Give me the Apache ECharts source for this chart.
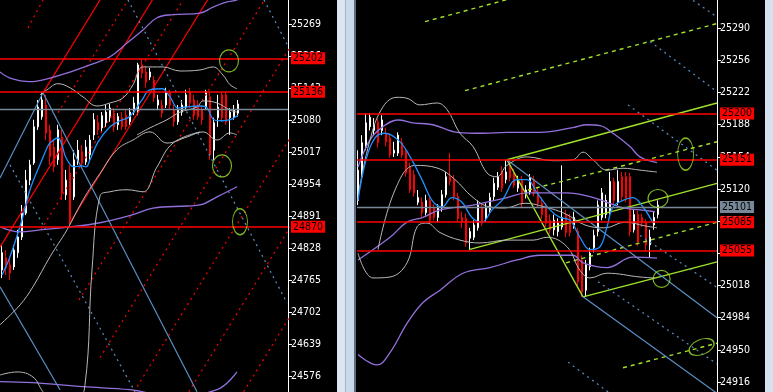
<!DOCTYPE html>
<html><head><meta charset="utf-8">
<script src="https://cdn.jsdelivr.net/npm/echarts@6/dist/echarts.min.js"></script>
<style>
html,body{margin:0;padding:0;background:#000;overflow:hidden}
#c{position:absolute;left:0;top:0;width:773px;height:392px}
.strip{position:absolute;top:0;height:392px}
</style></head><body>
<div id="c"></div>
<div class="strip" style="left:337px;width:8px;background:#dbe6f2"></div>
<div class="strip" style="left:345px;width:1px;background:#9fb3c8"></div>
<div class="strip" style="left:346px;width:8px;background:#c9d9ea"></div>
<div class="strip" style="left:354px;width:2px;background:#5d6d7e"></div>
<div class="strip" style="left:765px;width:8px;background:#d4e1ef"></div>
<script>
// ---------- tick labels ----------
const leftTicks = [25269,25206,25143,25080,25017,24954,24891,24828,24765,24702,24639,24576];
const rightTicks = [25290,25256,25222,25188,25154,25120,25086,25052,25018,24984,24950,24916];
// ---------- horizontal levels ----------
const leftLevels = [25202, 25136, 24870];
const rightLevels = [25200, 25151, 25085, 25055];
const currentPrice = 25101;
// ---------- candles [open, close, low, high] ----------
const leftCandles = [
[24785,24819,24769,24834],[24809,24789,24775,24824],[24795,24779,24765,24805],[24791,24824,24785,24834],
[24819,24850,24809,24864],[24850,24897,24844,24913],[24897,24962,24893,24982],[24962,24992,24952,25002],
[24996,25067,24992,25081],[25067,25106,25061,25120],[25087,25120,25081,25134],[25110,25055,25041,25130],
[25061,25008,24992,25071],[25027,24988,24978,25041],[25002,25061,24992,25071],[25047,24937,24923,25061],
[24933,24962,24923,24982],[24976,24884,24874,24992],[24929,25002,24923,25021],[24998,25021,24992,25041],
[25018,24998,24986,25031],[24998,25027,24992,25041],[25012,25041,25002,25051],[25051,25081,25041,25094],
[25075,25061,25051,25090],[25065,25089,25057,25096],[25075,25096,25067,25110],[25085,25104,25077,25112],
[25094,25067,25057,25104],[25071,25087,25061,25094],[25085,25067,25061,25096],[25090,25067,25061,25100],
[25077,25096,25071,25104],[25096,25114,25090,25126],[25096,25189,25090,25193],[25189,25173,25163,25201],
[25175,25155,25144,25187],[25165,25175,25159,25183],[25159,25124,25116,25167],[25110,25120,25100,25130],
[25110,25094,25085,25120],[25110,25134,25104,25144],[25134,25110,25100,25140],[25100,25077,25067,25110],
[25077,25100,25071,25110],[25096,25110,25089,25120],[25106,25130,25100,25140],[25136,25114,25104,25144],
[25120,25090,25081,25130],[25110,25087,25081,25120],[25100,25081,25071,25110],[25106,25136,25100,25140],
[25126,25012,25002,25136],[25021,25075,25002,25085],[25085,25106,25067,25130],[25130,25085,25077,25136],
[25130,25077,25071,25136],[25085,25096,25051,25104],[25087,25100,25081,25110],[25094,25112,25087,25120]
];
const rightCandles = [
[25108,25140,25103,25161],[25133,25169,25130,25177],[25164,25190,25161,25200],[25186,25196,25182,25200],
[25182,25188,25177,25195],[25191,25169,25164,25195],[25182,25193,25177,25198],[25179,25170,25165,25185],
[25174,25156,25153,25179],[25158,25161,25154,25170],[25158,25177,25155,25180],[25169,25156,25153,25174],
[25159,25137,25133,25163],[25143,25119,25116,25148],[25135,25116,25112,25140],[25106,25111,25103,25119],
[25106,25095,25090,25111],[25095,25108,25092,25114],[25108,25087,25083,25113],[25100,25090,25087,25104],
[25090,25100,25085,25104],[25100,25114,25096,25119],[25114,25133,25111,25138],[25133,25128,25124,25158],
[25130,25112,25108,25135],[25112,25089,25085,25116],[25090,25085,25079,25096],[25089,25063,25059,25094],
[25068,25075,25056,25079],[25069,25082,25066,25087],[25079,25103,25076,25108],[25101,25084,25081,25105],
[25089,25100,25085,25105],[25098,25111,25095,25116],[25112,25126,25108,25132],[25122,25133,25119,25138],
[25138,25121,25117,25144],[25130,25138,25126,25151],[25143,25132,25128,25149],[25137,25124,25121,25141],
[25121,25130,25117,25134],[25130,25105,25101,25134],[25114,25119,25110,25124],[25117,25132,25114,25136],
[25130,25116,25112,25134],[25117,25105,25101,25121],[25105,25093,25088,25111],[25101,25084,25080,25105],
[25087,25077,25073,25093],[25077,25087,25071,25093],[25075,25084,25070,25089],[25080,25090,25077,25145],
[25093,25074,25069,25098],[25089,25074,25070,25094],[25082,25090,25078,25096],[25075,25022,25018,25079],
[25045,25011,25006,25050],[25013,25040,25006,25045],[25038,25052,25034,25058],[25058,25071,25053,25077],
[25075,25103,25070,25108],[25090,25116,25087,25121],[25093,25108,25089,25114],[25096,25128,25093,25138],
[25128,25108,25104,25132],[25106,25128,25103,25140],[25133,25112,25108,25138],[25133,25110,25106,25138],
[25133,25075,25070,25137],[25077,25093,25074,25098],[25093,25064,25060,25097],[25090,25084,25080,25094],
[25084,25061,25055,25088],[25061,25069,25047,25077],[25082,25090,25077,25096],[25093,25103,25089,25108]
];
// ---------- indicator curves [bar index, price] ----------
const leftMA = [[0,24775],[2,24811],[5,24884],[7,24943],[10,25002],[11,25021],[12,25035],[14,25045],[15,25031],[16,25006],[18,24988],[20,24990],[21,24988],[22,25002],[24,25037],[27,25067],[29,25077],[32,25088],[35,25120],[37,25140],[40,25142],[42,25126],[44,25104],[46,25106],[49,25108],[51,25106],[53,25081],[55,25079],[57,25081],[59,25090]];
const leftPurpleUp = [[-0.5,25175],[2,25163],[7,25156],[12,25163],[17,25175],[22,25189],[27,25205],[31.25,25232],[35.25,25258],[38.75,25282],[42.75,25288],[49.5,25291],[52.75,25303],[56.25,25313],[58.75,25317],[59.5,25323]];
const leftPurpleMid = [[-0.5,24870],[4.5,24860],[9.5,24864],[17,24870],[24.5,24878],[32.75,24894],[37.75,24907],[46.25,24911],[49.5,24913],[53.75,24929],[58.75,24949]];
const leftPurpleLow = [[-0.5,24565],[7.75,24563],[20.25,24555],[32,24549],[42,24537],[53.75,24549],[58.75,24584]];
const leftGrayUp = [[9.5,25130],[11.25,25140],[14,25152],[17,25144],[20.25,25126],[23.75,25108],[27,25114],[30.25,25124],[32.75,25150],[35.25,25185],[40.25,25185],[44.5,25177],[49.5,25179],[52.75,25185],[55.25,25169],[57,25150],[58.75,25142]];
const leftGrayMid = [[33.75,25051],[37,25065],[41.25,25081],[44.5,25096],[48.75,25106],[50.25,25118],[53.75,25114],[57,25100],[58.75,25096]];
const leftGrayLow = [[-0.5,24677],[4.5,24716],[7.75,24752],[12,24811],[16.25,24864],[20.25,24923],[24.5,24975],[28.75,25022],[32.75,25041],[37,25057],[41.25,25035],[46.25,25047],[50.25,25057],[53.75,25041],[57,25055],[58.75,25051]];
const leftGrayOuter = [[-0.5,24578],[3.75,24584],[7.75,24574],[10.25,24545],[13.25,24519],[18.25,24519],[20.75,24559],[22.5,24785],[24.5,24931],[27,24939],[31.25,24943],[35.25,24939],[38.75,24988],[42.75,25035],[49.5,25057]];
const rightMA = [[0,25108],[2,25151],[4.25,25174],[6.75,25179],[10,25172],[12.5,25158],[16,25130],[18.5,25108],[21,25101],[23.5,25111],[26,25106],[28.5,25090],[31,25085],[33.5,25098],[36,25108],[39.75,25130],[42.25,25130],[44.75,25116],[48,25098],[50.5,25090],[53,25087],[55.5,25069],[58,25056],[60.5,25059],[62.25,25080],[63.75,25101],[66.25,25108],[68.75,25111],[71.25,25101],[73.75,25084]];
const rightPurpleUp = [[0,25143],[3,25172],[6.25,25186],[10,25193],[13.75,25190],[18.75,25188],[24.75,25180],[31.25,25179],[37.25,25180],[45.5,25180],[53.75,25185],[57.25,25188],[60.5,25187],[63.75,25179],[68,25165],[70.5,25154],[74.75,25148]];
const rightPurpleMid = [[0,25045],[8,25069],[12.25,25085],[16.25,25090],[20.5,25098],[28.75,25103],[37.25,25111],[42.25,25116],[52.25,25116],[58,25112],[62.25,25106],[66.25,25100],[70.5,25098],[74.25,25096]];
const rightPurpleLow = [[0,24945],[4.75,24934],[8,24947],[12.25,24978],[16.25,25000],[20.5,25013],[26.25,25031],[33,25037],[39.75,25045],[45.5,25050],[53.75,25050],[56.25,25042],[62.25,25037],[68.75,25048],[74.75,25047]];
const rightGrayUp = [[0,25112],[3,25172],[6.25,25207],[9.75,25217],[12.25,25216],[15.5,25209],[19.75,25211],[22.25,25204],[25.5,25179],[28.75,25165],[32.25,25137],[34.75,25133],[37.25,25145],[42.25,25154],[48.75,25150],[53.75,25151],[56.25,25159],[58.75,25151],[62.25,25140],[66.25,25142],[70.5,25140],[74.75,25138]];
const rightGrayMid = [[5,25056],[9.25,25119],[14.25,25145],[20,25142],[24.25,25130],[28.5,25112],[33,25101],[36.75,25100],[41.75,25105],[46.75,25101],[51.75,25094],[56.75,25082],[61.75,25079],[66.75,25085],[71.75,25081],[74.75,25079]];
const rightGrayLow = [[0,25052],[3.75,25026],[8,25027],[12.25,25042],[14.75,25080],[17.25,25084],[20.5,25074],[25.5,25066],[30.5,25063],[37.25,25066],[43.75,25066],[47.25,25069],[52.25,25059],[55.5,25034],[58,25026],[62.25,25031],[70.5,25027],[74.25,25026]];
// ---------- drawn objects: segments [[x1,p1],[x2,p2]] ----------
const leftRedSolid = [[[10.25,25134],[24.5,25317]],[[-0.5,24830],[37.6,25317]],[[17,24878],[51.4,25317]]];
const leftRedDotted = [[[6.5,25262],[10.25,25317]],[[13.25,25085],[31.5,25317]],[[9.75,24864],[45.25,25317]],[[19.25,24726],[65.6,25317]],[[24.5,24612],[79.25,25317]],[[33,24545],[93.25,25317]],[[46.7,24545],[107,25317]],[[60.4,24545],[120.75,25317]]];
const leftBlueSolid = [[[-0.5,24966],[10.25,25134]],[[10.25,25134],[48.75,24545]],[[-0.5,24752],[14.5,24549]]];
const leftBlueDotted = [[[2,24992],[33.25,24545]],[[31.5,25317],[71.25,24720]],[[65.5,25317],[71.5,25226]]];
const rightGreenSolid = [[[37.25,25151],[56.25,25006]],[[27.75,25056],[89.75,25126]],[[37.25,25151],[89.75,25211]],[[56.25,25006],[89.75,25043]]];
const rightGreenDashed = [[[16.75,25297],[89.75,25380]],[[26.75,25224],[89.75,25295]],[[42.5,25119],[89.75,25170]],[[52,25042],[89.75,25085]],[[66.25,24931],[89.75,24957]]];
const rightBlueSolid = [[[37.25,25151],[89.75,24984]],[[56.25,25006],[89.75,24904]]];
const rightBlueDotted = [[[82.5,25323],[89.75,25302]],[[73,25276],[89.75,25223]],[[67.5,25209],[89.75,25140]],[[70.5,25071],[89.75,25016]],[[60,25022],[89.75,24935]],[[52.5,24937],[63,24904]]];
const leftMarks = [[56.75,25197],[55,24990],[59.5,24880]];
const rightMarks = [[81.9,25157],[75,25110],[75.9,25025],[85.9,24953]];

// ---------- build ----------
const FONT = '"DejaVu Sans Condensed", "Liberation Sans", sans-serif';
const RED='#ff0000', STEEL='#5b8fc4', DODGER='#1e90ff', SILVER='#b8b8b8', PURPLE='#9370db', LIME='#9fe22a', SLATE='#778899';
const series = [];
function line(g, pts, color, type, width, smooth, z){
  series.push({type:'line', xAxisIndex:g, yAxisIndex:g, data:pts, symbol:'none', silent:true, animation:false,
    smooth: smooth||false, lineStyle:{color:color, width:width||1, type:type||'solid'}, z:z||3});
}
function candles(g, arr){
  series.push({type:'candlestick', xAxisIndex:g, yAxisIndex:g, animation:false, silent:true,
    data: arr.map((d,i)=>[i,d[0],d[1],d[2],d[3]]), encode:{x:0,y:[1,2,3,4]}, barWidth:2.2,
    itemStyle:{color:'#ffffff', color0:'#ff0000', borderColor:'#ffffff', borderColor0:'#ff0000', borderWidth:1}, z:2});
}
function levels(g, vals, gray, grayLabel){
  const lbl = (bg)=>({show:true, position:'end', distance:3, formatter:p=>String(p.value), color:'#000',
    backgroundColor:bg, padding:[1,2,0,2], fontSize:10.5, fontFamily:FONT});
  const data = vals.map(v=>({yAxis:v, lineStyle:{color:RED, width:1.6, type:'solid'}, label:lbl(RED)}));
  data.unshift({yAxis:gray, lineStyle:{color:SLATE, width:1.3, type:'solid'}, label: grayLabel ? lbl(SLATE) : {show:false}});
  series.push({type:'line', xAxisIndex:g, yAxisIndex:g, data:[], silent:true, animation:false, z:4,
    markLine:{symbol:['none','none'], silent:true, animation:false, data:data}});
}
function marks(g, pts, sizes, rots){
  pts.forEach((p,k)=>{
    series.push({type:'scatter', xAxisIndex:g, yAxisIndex:g, data:[p], symbol:'circle', symbolSize:sizes[k], symbolRotate:rots[k]||0,
      silent:true, animation:false, itemStyle:{color:'rgba(0,0,0,0)', borderColor:LIME, borderWidth:1.2}, z:6});
  });
}

// left panel
candles(0, leftCandles);
leftRedSolid.forEach(s=>line(0,s,RED,'solid',1.2));
leftRedDotted.forEach(s=>line(0,s,RED,[2,4],1.2));
leftBlueSolid.forEach(s=>line(0,s,STEEL,'solid',1.2));
leftBlueDotted.forEach(s=>line(0,s,STEEL,[2,4],1.2));
line(0,leftPurpleUp,PURPLE,'solid',1.3,0.4);
line(0,leftPurpleMid,PURPLE,'solid',1.3,0.4);
line(0,leftPurpleLow,PURPLE,'solid',1.3,0.4);
line(0,leftGrayUp,SILVER,'solid',1,0.4);
line(0,leftGrayMid,SILVER,'solid',1,0.4);
line(0,leftGrayLow,SILVER,'solid',1,0.4);
line(0,leftGrayOuter,SILVER,'solid',1,0.4);
line(0,leftMA,DODGER,'solid',1.3,0.4);
levels(0, leftLevels, currentPrice, false);
marks(0, leftMarks, [[19,22],[19,22],[15,26]], [0,0,0]);

// right panel
candles(1, rightCandles);
rightGreenSolid.forEach(s=>line(1,s,LIME,'solid',1.4));
rightGreenDashed.forEach(s=>line(1,s,LIME,[4,4],1.4));
rightBlueSolid.forEach(s=>line(1,s,STEEL,'solid',1.2));
rightBlueDotted.forEach(s=>line(1,s,STEEL,[2,4],1.2));
line(1,rightPurpleUp,PURPLE,'solid',1.3,0.4);
line(1,rightPurpleMid,PURPLE,'solid',1.3,0.4);
line(1,rightPurpleLow,PURPLE,'solid',1.3,0.4);
line(1,rightGrayUp,SILVER,'solid',1,0.4);
line(1,rightGrayMid,SILVER,'solid',1,0.4);
line(1,rightGrayLow,SILVER,'solid',1,0.4);
line(1,rightMA,DODGER,'solid',1.3,0.4);
levels(1, rightLevels, currentPrice, true);
marks(1, rightMarks, [[16,32],[20,18],[17,17],[26,15]], [0,0,0,22]);

function yAx(g, min, max, ticks){
  return {gridIndex:g, type:'value', position:'right', min:min, max:max,
    axisLine:{show:true, onZero:false, lineStyle:{color:'#fff', width:1}},
    axisTick:{show:true, length:4, inside:false, lineStyle:{color:'#fff'}, customValues:ticks},
    axisLabel:{show:true, color:'#fff', fontSize:10.5, fontFamily:FONT, margin:3, customValues:ticks, formatter:v=>String(v)},
    splitLine:{show:false}};
}
const chart = echarts.init(document.getElementById('c'), null, {renderer:'canvas', width:773, height:392});
chart.setOption({
  backgroundColor:'#000',
  animation:false,
  grid:[{left:0, top:0, width:288, height:392}, {left:357, top:0, width:360, height:392}],
  xAxis:[{gridIndex:0, type:'value', min:-0.5, max:71.5, show:false}, {gridIndex:1, type:'value', min:-0.25, max:89.75, show:false}],
  yAxis:[yAx(0, 24544.5, 25316.9, leftTicks), yAx(1, 24905.4, 25319.9, rightTicks)],
  series: series
});
</script>
</body></html>
